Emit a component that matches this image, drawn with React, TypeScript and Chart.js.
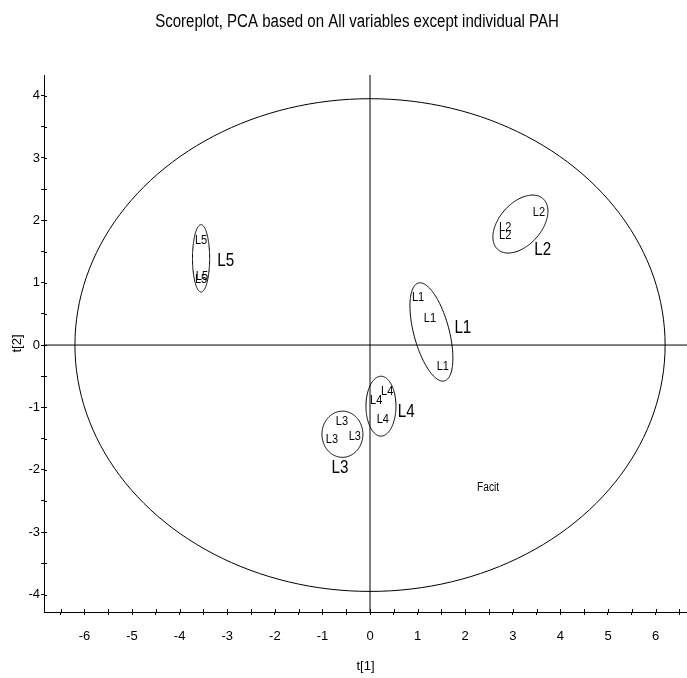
import React, { useEffect, useRef } from 'react';
import { Chart, registerables } from 'chart.js';

Chart.register(...registerables);

const TITLE = 'Scoreplot, PCA based on All variables except individual PAH';
const X_TITLE = 't[1]';
const Y_TITLE = 't[2]';
const X_MIN = -6.85;
const X_MAX = 6.66;
const Y_MIN = -4.28;
const Y_MAX = 4.33;
const TICK_STEP = 0.5;

// observation scores (t[1], t[2]) per group
const GROUPS = ['L1', 'L2', 'L3', 'L4', 'L5'];
const T1_L1 = [1.01, 1.26, 1.53];
const T2_L1 = [0.77, 0.43, -0.35];
const T1_L2 = [3.55, 2.84, 2.84];
const T2_L2 = [2.12, 1.88, 1.76];
const T1_L3 = [-0.59, -0.8, -0.32];
const T2_L3 = [-1.22, -1.52, -1.47];
const T1_L4 = [0.13, 0.36, 0.27];
const T2_L4 = [-0.88, -0.75, -1.19];
const T1_L5 = [-3.55, -3.53, -3.55];
const T2_L5 = [1.68, 1.1, 1.05];

// group annotation labels
const GROUP_LABEL_T1 = [1.95, 3.63, -0.63, 0.76, -3.03];
const GROUP_LABEL_T2 = [0.27, 1.52, -1.97, -1.07, 1.35];
const NOTE_TEXT = 'Facit';
const NOTE_T1 = 2.48;
const NOTE_T2 = -2.29;

// ellipses: centre and two semi-axis vectors (data units)
const ELLIPSE_CX = [0, 1.29, 3.16, -0.58, 0.23, -3.55];
const ELLIPSE_CY = [0, 0.21, 1.94, -1.43, -0.98, 1.39];
const ELLIPSE_UX = [6.2, 0.273, 0.475, 0.43, 0.315, 0.18];
const ELLIPSE_UY = [0, -0.785, 0.407, 0, 0, 0];
const ELLIPSE_VX = [0, 0.359, 0.33, 0, 0, 0];
const ELLIPSE_VY = [3.95, 0.072, -0.224, 0.37, 0.48, 0.54];

const FONT = '"Liberation Sans", Arial, sans-serif';

const T1_ALL = [T1_L1, T1_L2, T1_L3, T1_L4, T1_L5];
const T2_ALL = [T2_L1, T2_L2, T2_L3, T2_L4, T2_L5];

// draw text horizontally condensed, like a narrow font
function narrowText(ctx: any, text: string, x: number, y: number, font: string, squeeze: number, baseline: string) {
  ctx.save();
  ctx.font = font;
  ctx.fillStyle = '#000';
  ctx.textAlign = 'center';
  ctx.textBaseline = baseline;
  ctx.translate(x, y);
  ctx.scale(squeeze, 1);
  ctx.fillText(text, 0, 0);
  ctx.restore();
}

const titlePlugin = {
  id: 'narrowTitle',
  afterDraw(chart: any) {
    narrowText(chart.ctx, TITLE, 357, 27, `18px ${FONT}`, 0.836, 'alphabetic');
  },
};

const textPlugin = {
  id: 'scoreText',
  afterDatasetsDraw(chart: any) {
    const ctx = chart.ctx;
    chart.data.datasets.forEach((ds: any, i: number) => {
      if (!ds.texts) return;
      const meta = chart.getDatasetMeta(i);
      meta.data.forEach((el: any, j: number) => {
        narrowText(ctx, ds.texts[j], el.x, el.y, ds.textFont, ds.squeeze, 'middle');
      });
    });
  },
};

const ellipsePlugin = {
  id: 'ellipses',
  afterDatasetsDraw(chart: any) {
    const ctx = chart.ctx;
    const xs = chart.scales.x;
    const ys = chart.scales.y;
    ctx.save();
    ctx.strokeStyle = '#000';
    ctx.lineWidth = 1;
    for (let k = 0; k < ELLIPSE_CX.length; k++) {
      ctx.beginPath();
      const n = 180;
      for (let s = 0; s <= n; s++) {
        const t = (s / n) * Math.PI * 2;
        const dx = ELLIPSE_CX[k] + ELLIPSE_UX[k] * Math.cos(t) + ELLIPSE_VX[k] * Math.sin(t);
        const dy = ELLIPSE_CY[k] + ELLIPSE_UY[k] * Math.cos(t) + ELLIPSE_VY[k] * Math.sin(t);
        const px = xs.getPixelForValue(dx);
        const py = ys.getPixelForValue(dy);
        if (s === 0) ctx.moveTo(px, py);
        else ctx.lineTo(px, py);
      }
      ctx.stroke();
    }
    ctx.restore();
  },
};

const innerTickPlugin = {
  id: 'innerTicks',
  afterDraw(chart: any) {
    const ctx = chart.ctx;
    const xs = chart.scales.x;
    const ys = chart.scales.y;
    const area = chart.chartArea;
    ctx.save();
    ctx.strokeStyle = '#000';
    ctx.lineWidth = 1;
    ctx.beginPath();
    xs.ticks.forEach((t: any) => {
      const px = Math.round(xs.getPixelForValue(t.value)) + 0.5;
      ctx.moveTo(px, area.bottom);
      ctx.lineTo(px, area.bottom - 3);
    });
    ys.ticks.forEach((t: any) => {
      const py = Math.round(ys.getPixelForValue(t.value)) + 0.5;
      ctx.moveTo(area.left, py);
      ctx.lineTo(area.left + 3, py);
    });
    ctx.stroke();
    ctx.restore();
  },
};

export default function App() {
  const ref = useRef<HTMLCanvasElement | null>(null);

  useEffect(() => {
    if (!ref.current) return;
    const pointSets = GROUPS.map((g, gi) => ({
      label: g,
      data: T1_ALL[gi].map((v, j) => ({ x: v, y: T2_ALL[gi][j] })),
      pointRadius: 0,
      showLine: false,
      texts: T1_ALL[gi].map(() => g),
      textFont: `13px ${FONT}`,
      squeeze: 0.85,
    }));
    const groupLabelSet = {
      label: 'groups',
      data: GROUP_LABEL_T1.map((v, i) => ({ x: v, y: GROUP_LABEL_T2[i] })),
      pointRadius: 0,
      showLine: false,
      texts: GROUPS,
      textFont: `19px ${FONT}`,
      squeeze: 0.8,
    };
    const noteSet = {
      label: 'note',
      data: [{ x: NOTE_T1, y: NOTE_T2 }],
      pointRadius: 0,
      showLine: false,
      texts: [NOTE_TEXT],
      textFont: `12px ${FONT}`,
      squeeze: 0.85,
    };
    const hLine = {
      label: 'h0',
      data: [{ x: X_MIN, y: 0 }, { x: X_MAX, y: 0 }],
      showLine: true,
      pointRadius: 0,
      borderColor: '#000',
      borderWidth: 1,
    };
    const vLine = {
      label: 'v0',
      data: [{ x: 0, y: Y_MIN }, { x: 0, y: Y_MAX }],
      showLine: true,
      pointRadius: 0,
      borderColor: '#000',
      borderWidth: 1,
    };

    const chart = new Chart(ref.current, {
      type: 'scatter',
      data: { datasets: [hLine, vLine, ...pointSets, groupLabelSet, noteSet] as any },
      plugins: [ellipsePlugin, textPlugin, innerTickPlugin, titlePlugin],
      options: {
        responsive: false,
        animation: false,
        events: [],
        layout: { padding: { left: 0, right: 0, top: 75, bottom: 0 } },
        plugins: {
          legend: { display: false },
          tooltip: { enabled: false },
          title: { display: false },
        },
        scales: {
          x: {
            type: 'linear',
            position: 'bottom',
            min: X_MIN,
            max: X_MAX,
            border: { display: true, color: '#000', width: 1 },
            grid: { display: true, drawOnChartArea: false, drawTicks: true, tickLength: 3, color: '#000' },
            ticks: {
              stepSize: TICK_STEP,
              includeBounds: false,
              autoSkip: false,
              maxRotation: 0,
              padding: 14,
              color: '#000',
              font: { family: FONT, size: 13 },
              callback: (v: any) => (Number.isInteger(v) ? String(v) : ''),
            },
            title: {
              display: true,
              text: X_TITLE,
              color: '#000',
              font: { family: FONT, size: 13 },
              padding: { top: 0, bottom: 4 },
            },
            afterFit: (s: any) => {
              s.height = 66;
              s.paddingLeft = 0;
              s.paddingRight = 0;
            },
          },
          y: {
            type: 'linear',
            position: 'left',
            min: Y_MIN,
            max: Y_MAX,
            border: { display: true, color: '#000', width: 1 },
            grid: { display: true, drawOnChartArea: false, drawTicks: true, tickLength: 3, color: '#000' },
            ticks: {
              stepSize: TICK_STEP,
              includeBounds: false,
              autoSkip: false,
              padding: 1,
              color: '#000',
              font: { family: FONT, size: 13 },
              callback: (v: any) => (Number.isInteger(v) ? String(v) : ''),
            },
            title: {
              display: true,
              text: Y_TITLE,
              color: '#000',
              font: { family: FONT, size: 13 },
              padding: { top: 10, bottom: 0 },
            },
            afterFit: (s: any) => {
              s.width = 44;
              s.paddingTop = 0;
              s.paddingBottom = 0;
            },
          },
        },
      } as any,
    });
    return () => chart.destroy();
  }, []);

  return (
    <div style={{ position: 'absolute', left: 0, top: 0, width: 687, height: 678, background: '#fff' }}>
      <canvas ref={ref} width={687} height={678} style={{ width: 687, height: 678, display: 'block' }} />
    </div>
  );
}
